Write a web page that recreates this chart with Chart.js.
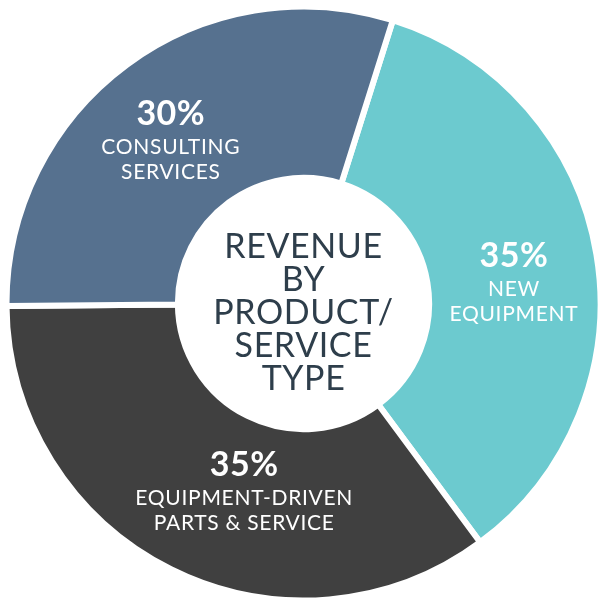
<!DOCTYPE html>
<html>
<head>
<meta charset="utf-8">
<script src="https://cdn.jsdelivr.net/npm/chart.js@4"></script>
<style>
html,body{margin:0;padding:0;background:#fff;}
#wrap{width:607px;height:607px;}
</style>
</head>
<body>
<div id="wrap"><canvas id="c" width="607" height="607"></canvas></div>
<script>
const categories = ["NEW\nEQUIPMENT", "EQUIPMENT-DRIVEN\nPARTS & SERVICE", "CONSULTING\nSERVICES"];
const values = [35, 35, 30];
const colors = ["#6ccacf", "#404040", "#56718f"];
const centerTitle = ["REVENUE", "BY", "PRODUCT/", "SERVICE", "TYPE"];

const FONT = "Lato, 'Open Sans', sans-serif";

const labelPlugin = {
  id: 'labels',
  afterDatasetsDraw(chart) {
    const ctx = chart.ctx;
    const meta = chart.getDatasetMeta(0);
    const total = values.reduce((a, b) => a + b, 0);
    // per-slice nudges relative to the arc's centroid
    const nudges = [[2, 9], [35, -6], [-7, 2]];
    meta.data.forEach((arc, i) => {
      const p = arc.tooltipPosition();
      const x = p.x + nudges[i][0];
      const y = p.y + nudges[i][1];
      ctx.save();
      ctx.fillStyle = '#ffffff';
      ctx.textAlign = 'center';
      ctx.textBaseline = 'middle';
      ctx.letterSpacing = '0.5px';
      ctx.font = "bold 34px " + FONT;
      ctx.fillText(Math.round(values[i] / total * 100) + '%', x, y - 22);
      ctx.font = "21px " + FONT;
      ctx.letterSpacing = '0.7px';
      const lines = categories[i].split('\n');
      lines.forEach((ln, k) => ctx.fillText(ln, x, y + 12 + k * 25));
      ctx.restore();
    });
    // centre title
    const cx = (chart.chartArea.left + chart.chartArea.right) / 2;
    const cy = (chart.chartArea.top + chart.chartArea.bottom) / 2;
    ctx.save();
    ctx.fillStyle = '#2e3e4b';
    ctx.textAlign = 'center';
    ctx.textBaseline = 'middle';
    ctx.letterSpacing = '0.6px';
    ctx.font = "34px " + FONT;
    const lh = 33;
    const start = cy + 10 - (centerTitle.length - 1) / 2 * lh;
    centerTitle.forEach((t, k) => ctx.fillText(t, cx, start + k * lh));
    ctx.restore();
  }
};

new Chart(document.getElementById('c'), {
  type: 'doughnut',
  data: {
    labels: categories,
    datasets: [{
      data: values,
      backgroundColor: colors,
      borderColor: '#ffffff',
      borderWidth: 6,
      hoverOffset: 0
    }]
  },
  options: {
    responsive: false,
    animation: false,
    rotation: 17.5,
    cutout: '42.3%',
    layout: { padding: 3.5 },
    plugins: { legend: { display: false }, tooltip: { enabled: false } }
  },
  plugins: [labelPlugin]
});
</script>
</body>
</html>
